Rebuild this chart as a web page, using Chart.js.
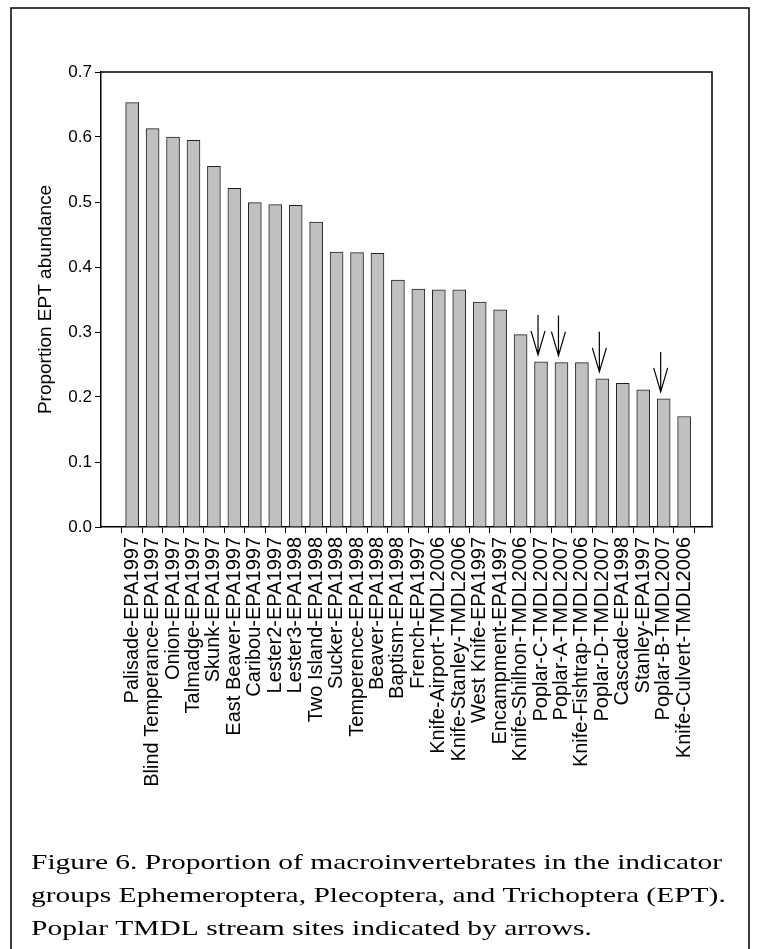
<!DOCTYPE html>
<html><head><meta charset="utf-8">
<script src="https://cdn.jsdelivr.net/npm/chart.js@4"></script>
<style>html,body{margin:0;padding:0;background:#fff}#w{width:760px;height:949px}</style>
</head><body><div id="w"><canvas id="c"></canvas></div>
<script>
const sites = ["Palisade-EPA1997","Blind Temperance-EPA1997","Onion-EPA1997","Talmadge-EPA1997","Skunk-EPA1997","East Beaver-EPA1997","Caribou-EPA1997","Lester2-EPA1997","Lester3-EPA1998","Two Island-EPA1998","Sucker-EPA1998","Temperence-EPA1998","Beaver-EPA1998","Baptism-EPA1998","French-EPA1997","Knife-Airport-TMDL2006","Knife-Stanley-TMDL2006","West Knife-EPA1997","Encampment-EPA1997","Knife-Shilhon-TMDL2006","Poplar-C-TMDL2007","Poplar-A-TMDL2007","Knife-Fishtrap-TMDL2006","Poplar-D-TMDL2007","Cascade-EPA1998","Stanley-EPA1997","Poplar-B-TMDL2007","Knife-Culvert-TMDL2006"];
const eptValues = [0.653,0.613,0.600,0.595,0.555,0.521,0.499,0.496,0.495,0.469,0.423,0.422,0.421,0.380,0.366,0.365,0.365,0.346,0.334,0.296,0.254,0.253,0.253,0.228,0.221,0.211,0.197,0.170];
const yTicks = [0,0.1,0.2,0.3,0.4,0.5,0.6,0.7];
const arrowSites = ["Poplar-C-TMDL2007","Poplar-A-TMDL2007","Poplar-D-TMDL2007","Poplar-B-TMDL2007"];
const caption = ["Figure 6. Proportion of macroinvertebrates in the indicator","groups Ephemeroptera, Plecoptera, and Trichoptera (EPT).","Poplar TMDL stream sites indicated by arrows."];

const extras = {
  id:'extras',
  afterDatasetsDraw(chart){
    const {ctx, chartArea:a, scales:{x,y}} = chart;
    ctx.save();
    ctx.strokeStyle='#000'; ctx.lineWidth=1.5;
    ctx.beginPath(); ctx.moveTo(a.left,a.top); ctx.lineTo(a.right,a.top); ctx.lineTo(a.right,a.bottom); ctx.stroke();
    ctx.lineWidth=1.2;
    arrowSites.forEach(s=>{
      const i = sites.indexOf(s);
      const px = x.getPixelForValue(i)-3, tip = y.getPixelForValue(eptValues[i])-7;
      ctx.beginPath(); ctx.moveTo(px,tip-40); ctx.lineTo(px,tip);
      ctx.moveTo(px-7,tip-24); ctx.lineTo(px,tip); ctx.lineTo(px+7,tip-24); ctx.stroke();
    });
    ctx.fillStyle='#000'; ctx.font='19px "Liberation Sans", Arial';
    ctx.save();
    ctx.translate(46,(a.top+a.bottom)/2); ctx.rotate(-Math.PI/2);
    ctx.textAlign='center'; ctx.textBaseline='middle';
    ctx.fillText('Proportion EPT abundance',0,0);
    ctx.restore();
    ctx.textAlign='left'; ctx.textBaseline='alphabetic';
    ctx.font='22px "Liberation Serif", "Times New Roman"';
    caption.forEach((t,k)=>{ctx.save();ctx.translate(31,869+k*33);ctx.scale(1.34,1);ctx.fillText(t,0,0);ctx.restore();});
    ctx.lineWidth=1.5;
    ctx.beginPath(); ctx.moveTo(11,960); ctx.lineTo(11,8); ctx.lineTo(749,8); ctx.lineTo(749,960); ctx.stroke();
    ctx.restore();
  }
};

new Chart(document.getElementById('c'),{
  type:'bar',
  data:{datasets:[{data:eptValues.map((v,i)=>({x:i,y:v})),backgroundColor:'#c0c0c0',borderColor:'#222',borderWidth:1,barThickness:13,borderSkipped:'bottom'}]},
  options:{
    responsive:true,maintainAspectRatio:false,animation:false,
    layout:{padding:{left:0,top:72,right:48,bottom:0}},
    plugins:{legend:{display:false},tooltip:{enabled:false}},
    scales:{
      x:{type:'linear',min:-0.99,max:27.83,
        afterFit(s){s.height=949-72-455;},
        afterBuildTicks(s){s.ticks=sites.map((_,i)=>({value:i}));},
        ticks:{autoSkip:false,minRotation:90,maxRotation:90,color:'#000',padding:4,font:{size:20,family:'"Liberation Sans", Arial'},callback:(v)=>sites[v]},
        grid:{drawOnChartArea:false,drawTicks:true,tickLength:6,color:'#000',lineWidth:1},
        border:{color:'#000',width:1.5}},
      y:{min:0,max:0.7,
        afterFit(s){s.width=101;},
        afterBuildTicks(s){s.ticks=yTicks.map(v=>({value:v}));},
        ticks:{color:'#000',font:{size:17,family:'"Liberation Sans", Arial'},callback:v=>v.toFixed(1),padding:3},
        grid:{drawOnChartArea:false,drawTicks:true,tickLength:6,color:'#000',lineWidth:1},
        border:{color:'#000',width:1.5}}
    }
  },
  plugins:[extras]
});
</script></body></html>
